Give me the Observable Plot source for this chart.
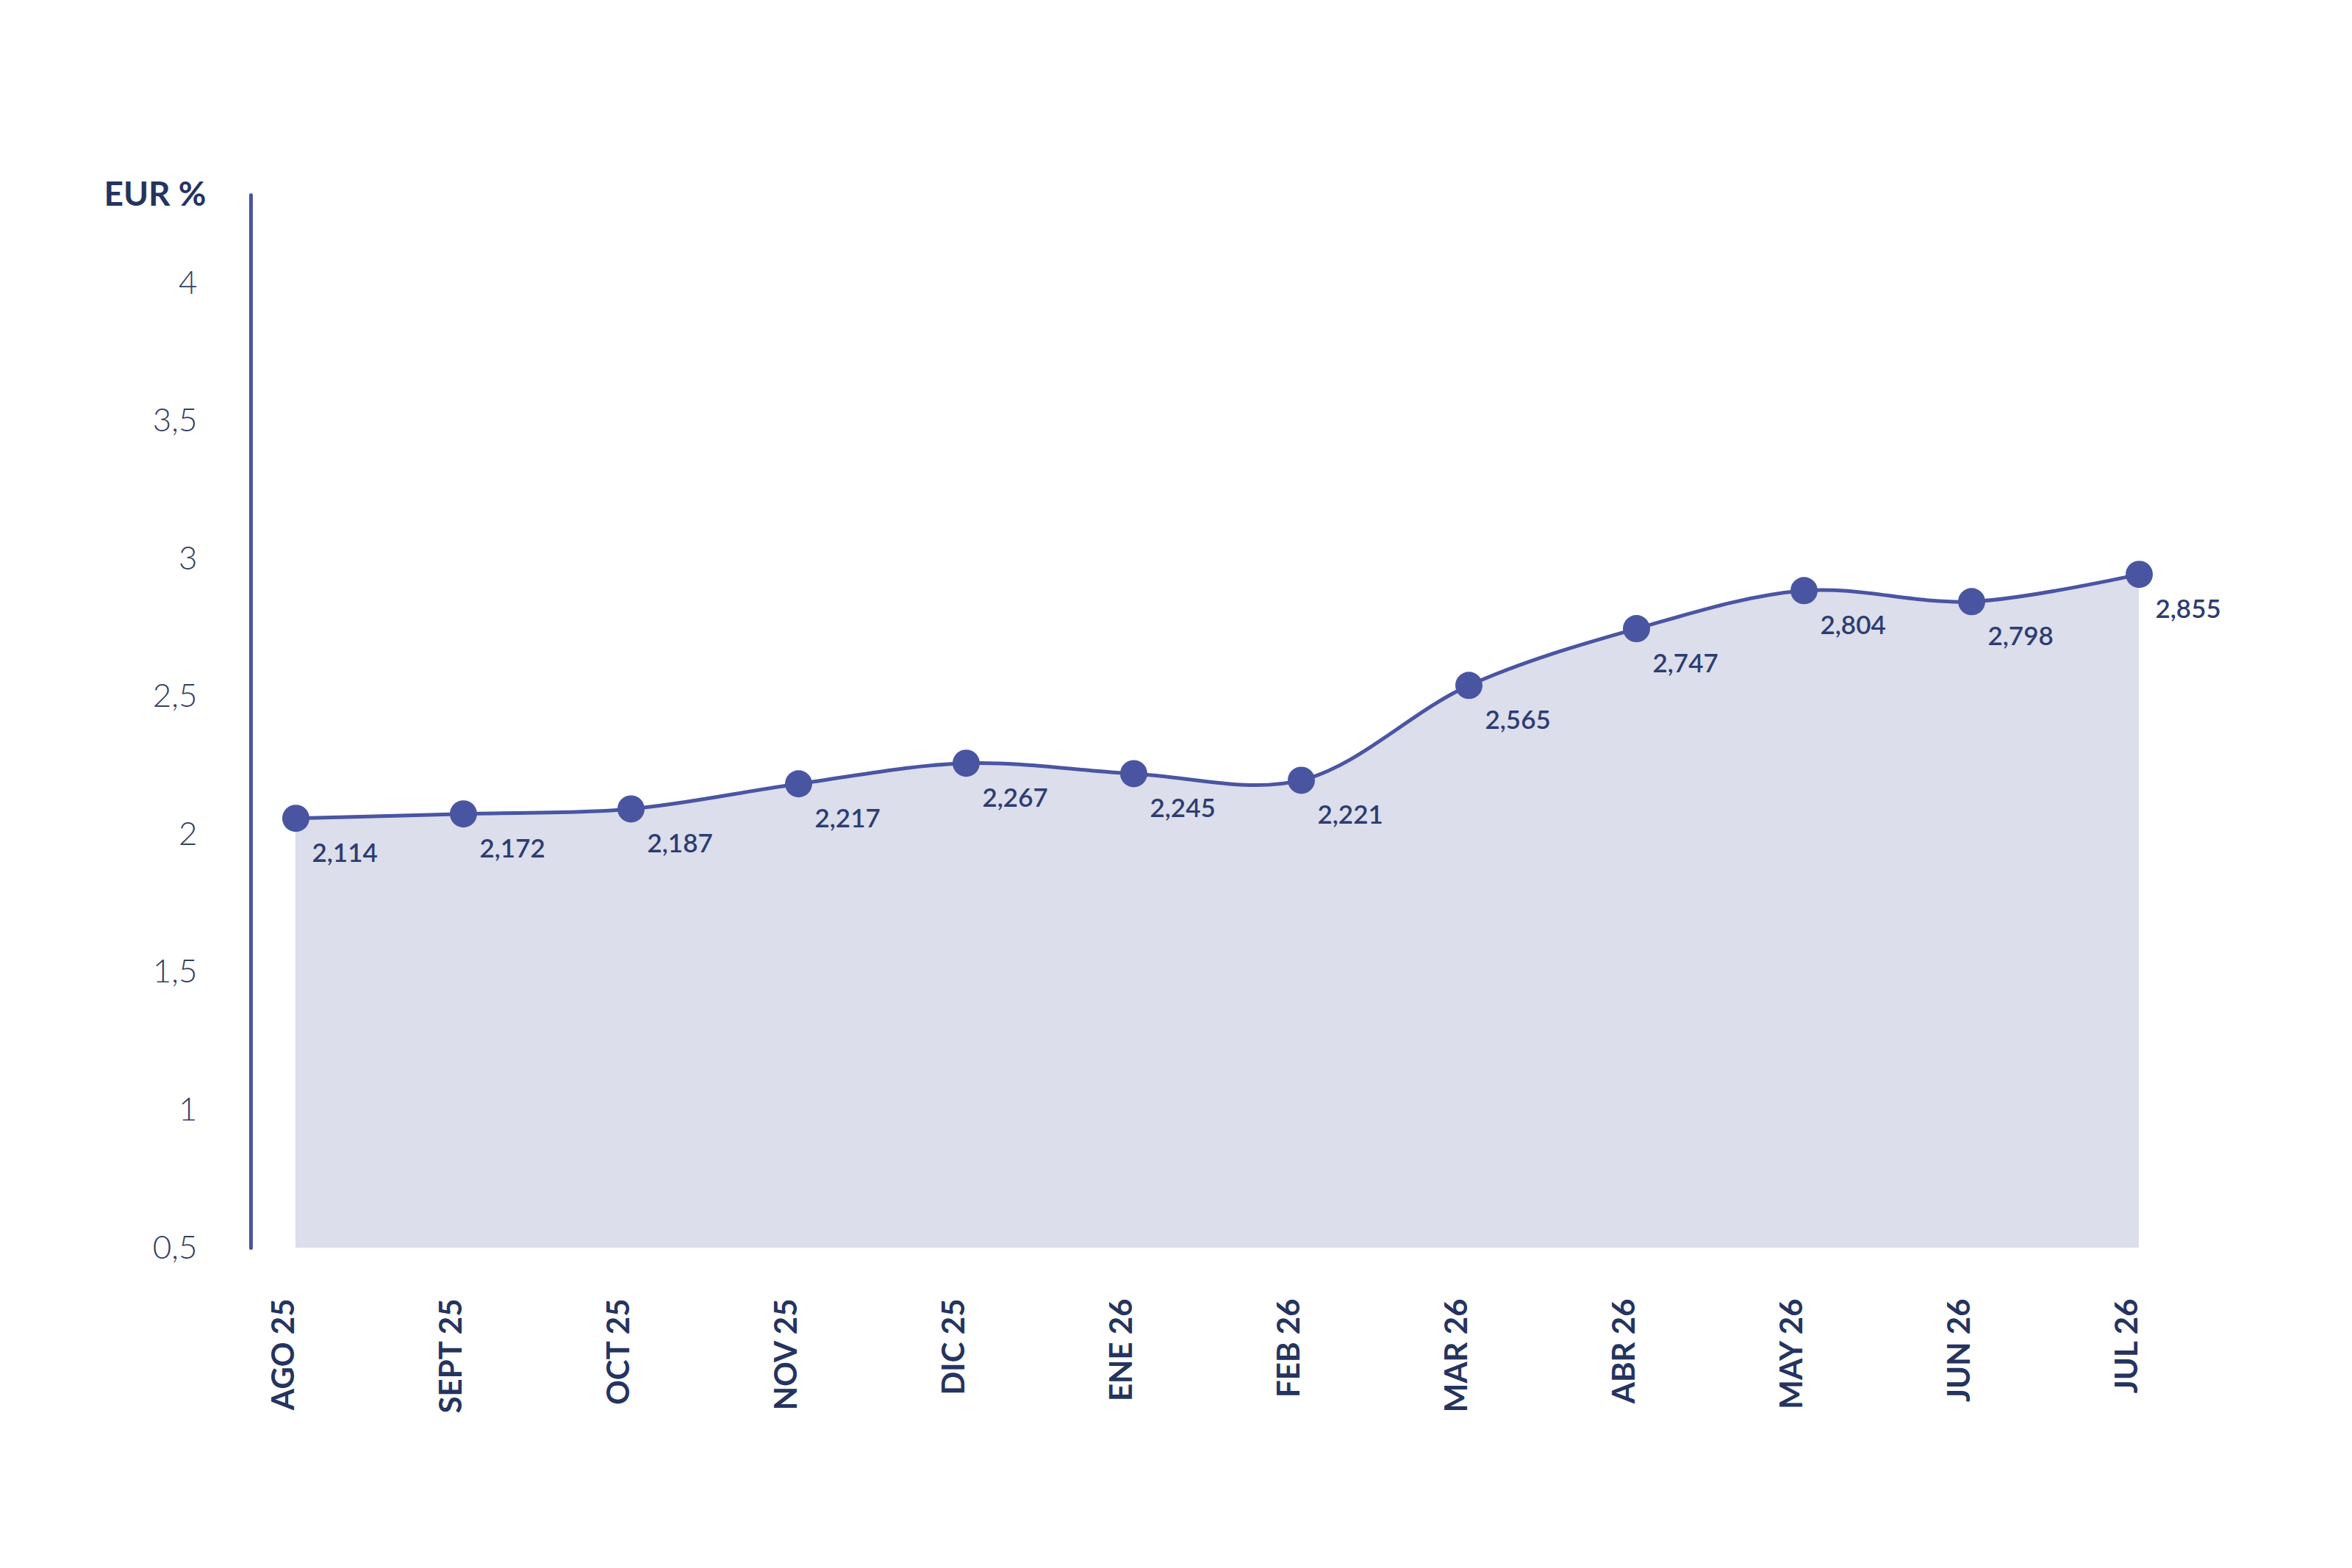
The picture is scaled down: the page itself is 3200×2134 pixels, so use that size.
<!DOCTYPE html>
<html>
<head>
<meta charset="utf-8">
<script src="https://cdn.jsdelivr.net/npm/d3@7"></script>
<script src="https://cdn.jsdelivr.net/npm/@observablehq/plot@0.6"></script>
<style>
  html, body { margin: 0; padding: 0; background: #ffffff; }
  #chart svg { display: block; }
</style>
</head>
<body>
<div id="chart"></div>
<script>
// Months on the x axis
const months = ["AGO 25", "SEPT 25", "OCT 25", "NOV 25", "DIC 25", "ENE 26",
                "FEB 26", "MAR 26", "ABR 26", "MAY 26", "JUN 26", "JUL 26"];
// Values printed next to each point
const labelValues = [2.114, 2.172, 2.187, 2.217, 2.267, 2.245,
                     2.221, 2.565, 2.747, 2.804, 2.798, 2.855];
// Levels at which the points are drawn in the picture
const pointLevels = [2.059, 2.075, 2.093, 2.184, 2.259, 2.221,
                     2.197, 2.541, 2.747, 2.885, 2.845, 2.944];
// Y axis ticks
const yTicks = [0.5, 1, 1.5, 2, 2.5, 3, 3.5, 4];
const yLabel = "EUR %";

const data = months.map((m, i) => ({
  month: m,
  level: pointLevels[i],
  label: labelValues[i].toFixed(3).replace(".", ",")
}));

const lineColor = "#4a55a2";
const fillColor = "#dcdeeb";
const textColor = "#25345f";
const fmt = d => String(d).replace(".", ",");

const chart = Plot.plot({
  width: 3200,
  height: 2134,
  marginLeft: 341,
  marginRight: 290,
  marginTop: 265,
  marginBottom: 436,
  insetLeft: 61,
  style: { fontFamily: "Lato, 'Open Sans', sans-serif", background: "#ffffff", overflow: "visible" },
  x: { type: "point", domain: months, padding: 0 },
  y: { domain: [0.5, 4.32], ticks: yTicks },
  marks: [
    Plot.areaY(data, { x: "month", y1: yTicks[0], y2: "level", fill: fillColor, curve: "catmull-rom" }),
    Plot.lineY(data, { x: "month", y: "level", stroke: lineColor, strokeWidth: 5, curve: "catmull-rom" }),
    Plot.dot(data, { x: "month", y: "level", r: 18.5, fill: lineColor, stroke: "none" }),
    Plot.text(data, {
      x: "month", y: "level", text: "label",
      dx: 22, dy: 48, textAnchor: "start", lineAnchor: "middle",
      fontSize: 35, fontWeight: 600, fill: "#2c3d72"
    }),
    Plot.frame({ anchor: "left", stroke: lineColor, strokeWidth: 5, strokeLinecap: "round" }),
    Plot.axisY({
      ticks: yTicks, tickFormat: fmt, tickSize: 0, tickPadding: 73,
      fontSize: 44, fontWeight: 300, fill: "#34405f", label: null
    }),
    Plot.axisX({
      tickRotate: -90, tickSize: 0, tickPadding: 69, dx: -16,
      fontSize: 42, fontWeight: 700, fill: textColor, label: null
    }),
    Plot.text([yLabel], {
      frameAnchor: "top-left", text: d => d, dx: -61, dy: 0,
      textAnchor: "end", lineAnchor: "middle",
      fontSize: 46, fontWeight: 700, fill: textColor
    })
  ]
});

document.getElementById("chart").appendChild(chart);
</script>
</body>
</html>
